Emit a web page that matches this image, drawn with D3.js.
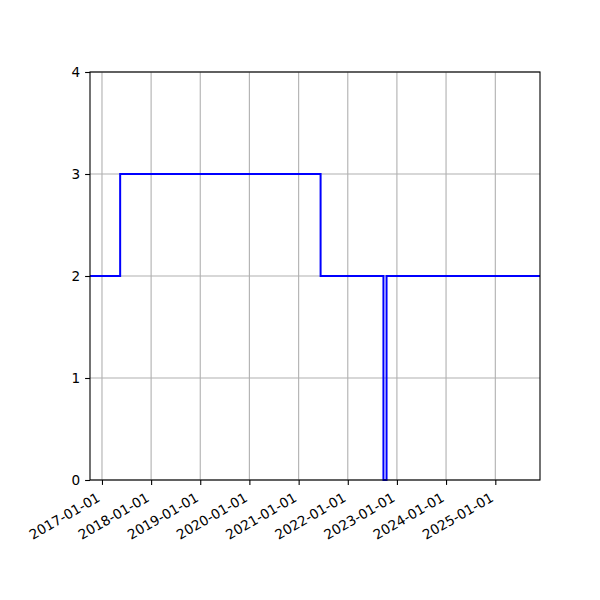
<!DOCTYPE html>
<html>
<head>
<meta charset="utf-8">
<script src="https://cdn.jsdelivr.net/npm/d3@7"></script>
<style>
  body { margin: 0; background: #fff; }
  text { font-family: "DejaVu Sans", sans-serif; }
</style>
</head>
<body>
<svg id="chart" width="600" height="600"></svg>
<script>
// Step series (step-after)
const dates  = ["2016-10-04", "2017-05-16", "2021-06-13", "2022-09-23", "2022-10-16", "2025-11-29"];
const values = [2, 3, 2, 0, 2, 2];

const xDomain = ["2016-10-04", "2025-11-29"];
const yDomain = [0, 4];
const xTickLabels = ["2017-01-01","2018-01-01","2019-01-01","2020-01-01","2021-01-01","2022-01-01","2023-01-01","2024-01-01","2025-01-01"];
const yTickLabels = [0, 1, 2, 3, 4];

const parse = d3.utcParse("%Y-%m-%d");
const data = dates.map((d, i) => ({ date: parse(d), value: values[i] }));

const L = 90, R = 540, T = 72, B = 480;
const svg = d3.select("#chart");
svg.append("rect").attr("width", 600).attr("height", 600).attr("fill", "#fff");

const x = d3.scaleUtc().domain(xDomain.map(parse)).range([L, R]);
const y = d3.scaleLinear().domain(yDomain).range([B, T]);

const fs = 13.6;
const tickLen = 4.9, pad = 4.9;

// grid
const grid = svg.append("g");
xTickLabels.forEach(t => {
  const px = x(parse(t));
  grid.append("line").attr("x1", px).attr("x2", px).attr("y1", T).attr("y2", B)
    .attr("stroke", "#b0b0b0").attr("stroke-width", 1.1);
});
yTickLabels.forEach(v => {
  grid.append("line").attr("x1", L).attr("x2", R).attr("y1", y(v)).attr("y2", y(v))
    .attr("stroke", "#b0b0b0").attr("stroke-width", 1.1);
});

// line
const line = d3.line().x(d => x(d.date)).y(d => y(d.value)).curve(d3.curveStepAfter);
svg.append("clipPath").attr("id", "clip").append("rect")
  .attr("x", L).attr("y", T - 2).attr("width", R - L).attr("height", B - T + 4);
svg.append("path").datum(data).attr("d", line).attr("fill", "none")
  .attr("stroke", "#0000ff").attr("stroke-width", 2).attr("stroke-linejoin", "miter")
  .attr("clip-path", "url(#clip)");

// spines
svg.append("rect").attr("x", L).attr("y", T).attr("width", R - L).attr("height", B - T)
  .attr("fill", "none").attr("stroke", "#000").attr("stroke-width", 1.1);

// x axis ticks
const xAxis = d3.axisBottom(x).tickValues(xTickLabels.map(parse))
  .tickSize(tickLen).tickFormat(d3.utcFormat("%Y-%m-%d"));
const gx = svg.append("g").attr("transform", `translate(0,${B})`).call(xAxis);
gx.select(".domain").remove();
gx.selectAll(".tick line").attr("stroke", "#000").attr("stroke-width", 1.1);
const h = fs * 1.1;
gx.selectAll(".tick text")
  .attr("font-size", fs).attr("fill", "#000").attr("font-family", "DejaVu Sans")
  .attr("text-anchor", "end")
  .attr("y", 0).attr("x", 0).attr("dy", null)
  .attr("transform", `translate(${-h/2},${tickLen + pad}) rotate(-30) translate(0,${fs*0.9})`);

// y axis
const yAxis = d3.axisLeft(y).tickValues(yTickLabels).tickSize(tickLen).tickPadding(pad).tickFormat(d3.format("d"));
const gy = svg.append("g").attr("transform", `translate(${L},0)`).call(yAxis);
gy.select(".domain").remove();
gy.selectAll(".tick line").attr("stroke", "#000").attr("stroke-width", 1.1);
gy.selectAll(".tick text").attr("font-size", fs).attr("fill", "#000").attr("font-family", "DejaVu Sans");
</script>
</body>
</html>
